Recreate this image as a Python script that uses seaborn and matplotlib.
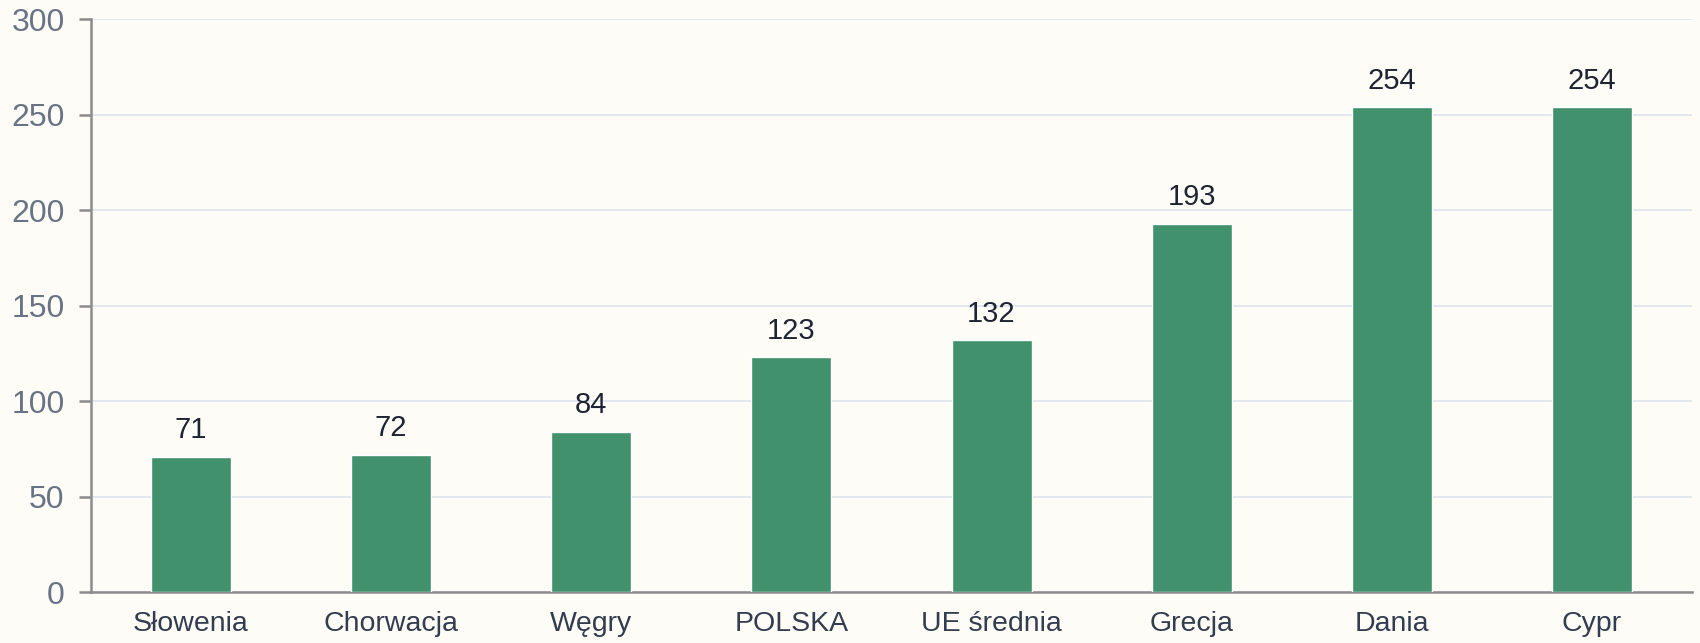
import pandas as pd
import matplotlib.pyplot as plt
import seaborn as sns

kraje = ["Słowenia", "Chorwacja", "Węgry", "POLSKA", "UE średnia", "Grecja", "Dania", "Cypr"]
wartosci = [71, 72, 84, 123, 132, 193, 254, 254]

df = pd.DataFrame({"kraj": kraje, "wartosc": wartosci})

sns.set_theme(style="white")
plt.rcParams["font.family"] = ["Liberation Sans", "DejaVu Sans"]

tlo = "#fdfcf7"
fig = plt.figure(figsize=(17, 6.43), dpi=100, facecolor=tlo)
ax = fig.add_axes([0.0535, 0.0793, 0.9418, 0.8904])
ax.set_facecolor(tlo)

sns.barplot(data=df, x="kraj", y="wartosc", color="#41916c", saturation=1,
            width=0.4, ax=ax, zorder=3)

for c in ax.containers:
    ax.bar_label(c, labels=[str(v) for v in wartosci], padding=9,
                 fontsize=21, color="#1f2433")

ax.set_xlim(-0.5, len(kraje) - 0.5)
ax.set_ylim(0, 300)
ax.set_yticks(range(0, 301, 50))
ax.grid(axis="y", color="#e1e6ee", linewidth=1.3, zorder=0)

# kreski osi X na granicach kategorii
ax.set_xticks([i - 0.5 for i in range(len(kraje) + 1)], minor=True)
ax.tick_params(axis="x", which="major", length=0, pad=14, labelsize=20.5, labelcolor="#333d4f")
ax.tick_params(axis="x", which="minor", length=9, width=1.8, color="#8c8c8c", direction="out")
ax.tick_params(axis="y", length=9, width=1.8, color="#8c8c8c", pad=10,
               labelsize=23, labelcolor="#687385", left=True)

for s in ["top", "right"]:
    ax.spines[s].set_visible(False)
for s in ["left", "bottom"]:
    ax.spines[s].set_color("#8c8c8c")
    ax.spines[s].set_linewidth(1.8)

ax.set_xlabel("")
ax.set_ylabel("")

plt.savefig("out.png", facecolor=tlo)
